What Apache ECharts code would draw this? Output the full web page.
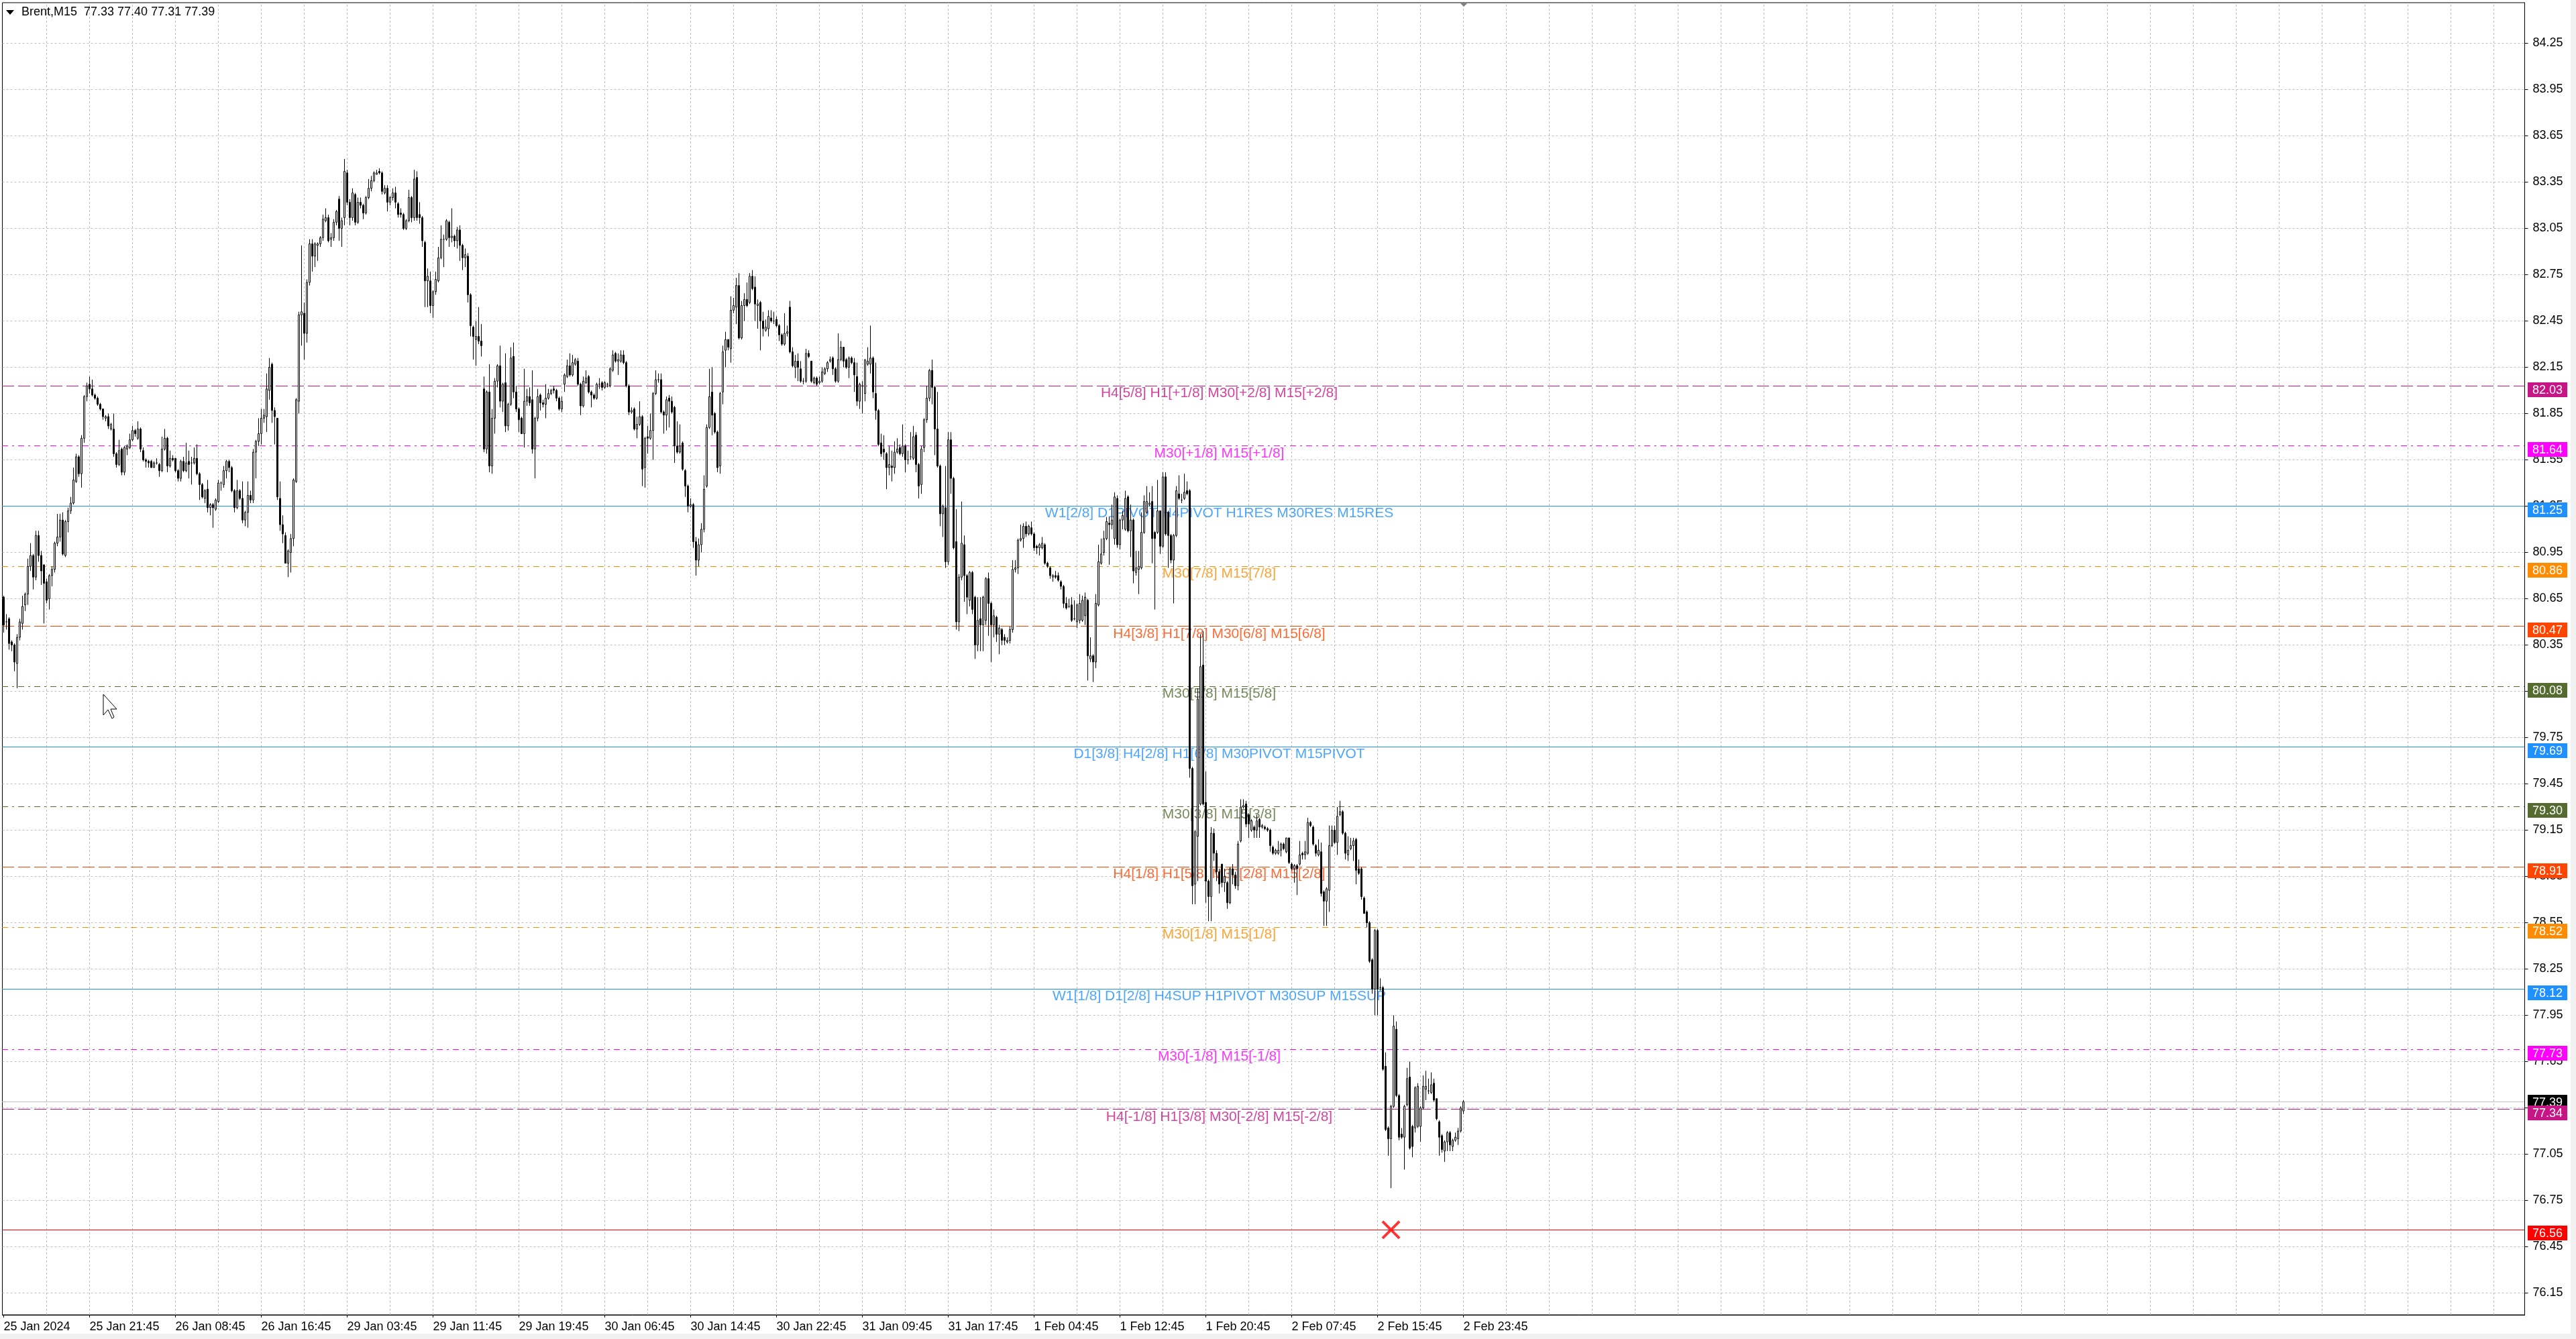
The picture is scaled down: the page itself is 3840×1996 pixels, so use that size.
<!DOCTYPE html>
<html>
<head>
<meta charset="utf-8">
<script src="https://cdn.jsdelivr.net/npm/echarts@6.0.0/dist/echarts.min.js"></script>
<style>
html,body{margin:0;padding:0;background:#fff;}
#c{width:3840px;height:1996px;}
</style>
</head>
<body>
<div id="c"></div>
<script>
// ---------------- DATA ----------------
const symbolName = 'Brent,M15';
const timeLabels = ['25 Jan 2024','25 Jan 21:45','26 Jan 08:45','26 Jan 16:45','29 Jan 03:45','29 Jan 11:45','29 Jan 19:45','30 Jan 06:45','30 Jan 14:45','30 Jan 22:45','31 Jan 09:45','31 Jan 17:45','1 Feb 04:45','1 Feb 12:45','1 Feb 20:45','2 Feb 07:45','2 Feb 15:45','2 Feb 23:45'];
const priceTicks = [76.15,76.45,76.75,77.05,77.35,77.65,77.95,78.25,78.55,78.85,79.15,79.45,79.75,80.05,80.35,80.65,80.95,81.25,81.55,81.85,82.15,82.45,82.75,83.05,83.35,83.65,83.95,84.25];

const opens = [
80.66,80.50,80.52,80.37,80.35,80.23,80.40,80.49,80.61,80.68,
80.86,80.93,80.79,81.06,80.93,80.87,80.76,80.65,80.80,80.84,
81.01,81.05,81.16,80.93,81.15,81.22,81.27,81.41,81.57,81.46,
81.69,81.96,82.04,82.01,81.97,81.95,81.91,81.88,81.82,81.83,
81.75,81.75,81.59,81.52,81.62,81.47,81.62,81.63,81.68,81.74,
81.69,81.75,81.61,81.55,81.54,81.54,81.50,81.53,81.52,81.48,
81.62,81.69,81.51,81.56,81.56,81.48,81.43,81.54,81.48,81.54,
81.53,81.53,81.56,81.46,81.39,81.30,81.36,81.24,81.26,81.23,
81.28,81.40,81.39,81.48,81.54,81.50,81.35,81.24,81.35,81.30,
81.16,81.21,81.32,81.29,81.60,81.67,81.72,81.82,81.83,82.00,
82.17,81.87,81.82,81.30,81.13,81.06,80.88,80.95,81.04,81.41,
81.93,82.49,82.50,82.37,82.70,82.95,82.87,82.94,82.95,82.99,
83.10,83.12,82.98,82.99,83.09,83.24,83.05,83.12,83.41,83.22,
83.12,83.27,83.09,83.22,83.20,83.15,83.25,83.31,83.36,83.40,
83.42,83.41,83.28,83.31,83.22,83.25,83.28,83.21,83.15,83.14,
83.05,83.10,83.25,83.12,83.38,83.14,83.12,82.96,82.71,82.71,
82.55,82.64,82.71,82.86,82.98,82.98,83.09,82.99,83.00,82.97,
83.04,82.94,82.86,82.87,82.62,82.41,82.33,82.35,82.32,82.01,
81.62,81.99,81.51,81.82,82.06,82.16,81.93,82.05,81.77,81.91,
82.22,81.99,81.88,81.82,81.72,81.93,81.96,81.94,81.62,81.82,
81.97,81.92,81.91,81.95,81.98,82.01,82.00,81.95,81.88,82.04,
82.09,82.16,82.10,82.17,82.19,82.04,81.90,82.05,82.09,81.99,
81.97,81.95,82.04,82.05,82.02,82.04,82.03,82.13,82.24,82.19,
82.19,82.23,82.18,82.03,81.86,81.88,81.75,81.78,81.83,81.50,
81.70,81.69,81.74,81.98,82.07,82.07,81.86,81.84,81.95,81.93,
81.89,81.64,81.60,81.66,81.48,81.38,81.25,81.26,81.02,80.90,
81.00,81.10,81.38,81.76,81.99,81.85,81.73,81.51,81.99,82.26,
82.33,82.27,82.52,82.54,82.68,82.34,82.55,82.59,82.57,82.74,
82.67,82.55,82.57,82.45,82.39,82.40,82.47,82.45,82.46,82.42,
82.36,82.30,82.37,82.54,82.25,82.15,82.19,82.14,82.06,82.06,
82.24,82.19,82.05,82.08,82.05,82.06,82.11,82.14,82.19,82.21,
82.14,82.06,82.20,82.28,82.20,82.15,82.21,82.18,82.09,81.93,
82.03,81.98,82.17,82.17,82.21,81.98,81.87,81.66,81.62,81.59,
81.50,81.51,81.50,81.60,81.63,81.59,81.64,81.55,81.57,81.56,
81.71,81.52,81.39,81.63,81.81,81.95,82.13,82.02,81.75,81.51,
81.20,81.24,80.89,81.68,81.43,81.02,80.50,80.79,81.00,80.80,
80.64,80.82,80.66,80.35,80.52,80.48,80.51,80.78,80.62,80.48,
80.53,80.42,80.45,80.40,80.37,80.38,80.45,80.84,80.85,81.03,
81.04,81.12,81.07,81.11,81.07,80.99,80.98,80.98,81.00,80.88,
80.85,80.79,80.80,80.80,80.76,80.73,80.62,80.60,80.61,80.52,
80.50,80.51,80.51,80.54,80.64,80.26,80.28,80.24,80.61,80.88,
80.95,81.04,81.14,81.13,81.04,81.30,81.00,81.16,81.10,81.31,
81.09,81.16,80.82,80.84,80.85,81.08,81.21,81.26,81.28,81.08,
81.08,81.22,80.99,81.44,81.21,81.06,80.90,81.06,81.33,81.29,
81.30,81.35,81.35,79.55,78.80,79.11,79.32,80.22,79.33,78.82,
78.72,79.13,79.00,78.88,78.93,78.81,78.81,78.68,78.90,78.86,
78.79,79.08,79.30,79.32,79.25,79.15,79.17,79.15,79.22,79.17,
79.17,79.16,79.15,79.04,79.00,79.00,79.02,79.06,79.01,79.10,
78.93,78.90,78.92,78.93,79.00,78.99,79.00,79.20,79.17,79.05,
78.99,79.01,78.75,78.69,78.76,79.05,79.15,79.07,79.25,79.27,
79.13,78.99,79.03,79.05,79.09,78.90,78.90,78.71,78.62,78.55,
78.31,78.12,78.50,78.13,78.13,77.62,77.22,77.15,77.36,77.86,
77.43,77.18,77.16,77.37,77.55,77.23,77.22,77.23,77.23,77.35,
77.47,77.46,77.45,77.51,77.41,77.26,77.17,77.07,77.13,77.19,
77.10,77.14,77.15,77.20,77.33
];
const highs = [
80.67,80.55,80.53,80.38,80.36,80.42,80.52,80.67,80.69,80.91,
81.01,80.94,81.09,81.09,80.96,80.87,80.78,80.81,80.86,81.02,
81.20,81.20,81.21,81.16,81.24,81.31,81.50,81.59,81.58,81.71,
81.97,82.05,82.09,82.07,81.98,81.96,81.92,81.88,81.84,81.85,
81.79,81.85,81.60,81.68,81.63,81.64,81.65,81.72,81.77,81.75,
81.80,81.76,81.63,81.56,81.55,81.55,81.54,81.56,81.53,81.70,
81.75,81.70,81.61,81.58,81.56,81.49,81.55,81.57,81.66,81.61,
81.57,81.63,81.65,81.47,81.40,81.36,81.42,81.27,81.27,81.30,
81.42,81.41,81.51,81.55,81.55,81.51,81.36,81.42,81.36,81.41,
81.22,81.41,81.35,81.62,81.68,81.82,81.88,81.88,82.11,82.21,
82.18,81.89,81.82,81.41,81.19,81.08,80.97,81.07,81.43,81.95,
82.51,82.94,82.57,82.72,82.98,82.98,82.96,82.96,83.00,83.14,
83.18,83.14,83.02,83.11,83.17,83.26,83.12,83.50,83.43,83.24,
83.31,83.28,83.25,83.25,83.21,83.26,83.37,83.39,83.42,83.43,
83.44,83.42,83.33,83.33,83.26,83.31,83.32,83.22,83.18,83.15,
83.11,83.30,83.26,83.43,83.42,83.22,83.13,82.97,82.79,82.77,
82.65,82.77,82.93,83.07,83.01,83.11,83.10,83.18,83.01,83.06,
83.07,82.95,82.92,82.89,82.63,82.42,82.45,82.54,82.43,82.09,
82.00,82.17,81.88,82.08,82.17,82.29,82.05,82.24,81.92,82.28,
82.31,82.03,81.89,81.83,82.14,82.01,82.02,82.13,81.83,82.01,
81.98,81.94,82.04,82.01,82.01,82.03,82.01,81.96,81.96,82.11,
82.20,82.24,82.23,82.21,82.21,82.05,82.09,82.13,82.10,82.00,
81.98,82.05,82.08,82.06,82.06,82.05,82.15,82.26,82.25,82.24,
82.26,82.26,82.19,82.04,81.89,81.89,81.83,81.93,81.84,81.70,
81.77,81.85,81.99,82.13,82.11,82.11,81.87,81.96,81.97,81.96,
81.90,81.80,81.78,81.67,81.49,81.39,81.30,81.27,81.05,81.04,
81.14,81.45,81.78,82.14,82.15,81.86,81.74,81.99,82.29,82.38,
82.33,82.61,82.60,82.73,82.76,82.58,82.63,82.70,82.76,82.78,
82.74,82.59,82.58,82.51,82.46,82.52,82.52,82.51,82.48,82.43,
82.37,82.50,82.42,82.58,82.28,82.23,82.24,82.19,82.08,82.27,
82.26,82.19,82.09,82.09,82.09,82.15,82.15,82.19,82.22,82.22,
82.15,82.37,82.32,82.28,82.21,82.22,82.22,82.21,82.18,82.05,
82.06,82.20,82.28,82.42,82.22,82.18,81.88,81.72,81.71,81.60,
81.64,81.61,81.67,81.69,81.65,81.78,81.65,81.61,81.73,81.77,
81.73,81.53,81.64,81.82,82.03,82.14,82.20,82.03,81.99,81.52,
81.26,81.51,81.73,81.73,81.44,81.23,80.81,81.28,81.06,80.81,
80.83,80.83,80.67,80.66,80.66,80.67,80.79,80.82,80.63,80.58,
80.54,80.48,80.46,80.42,80.40,80.47,80.90,80.90,81.04,81.13,
81.14,81.15,81.13,81.15,81.08,81.00,81.01,81.05,81.01,80.89,
80.86,80.81,80.83,80.82,80.77,80.74,80.66,80.65,80.66,80.64,
80.62,80.68,80.67,80.69,80.65,80.40,80.29,80.68,81.00,81.04,
81.09,81.18,81.18,81.26,81.34,81.32,81.17,81.22,81.35,81.32,
81.26,81.17,80.96,80.96,81.21,81.32,81.38,81.34,81.38,81.09,
81.42,81.22,81.47,81.47,81.22,81.07,81.07,81.38,81.45,81.33,
81.46,81.41,81.36,79.56,79.15,80.07,80.42,80.44,79.53,78.83,
79.17,79.16,79.02,78.90,78.93,78.90,78.82,78.91,78.93,78.88,
79.08,79.35,79.35,79.34,79.26,79.22,79.18,79.25,79.23,79.19,
79.18,79.17,79.16,79.05,79.03,79.08,79.07,79.07,79.10,79.10,
78.94,78.93,78.93,79.08,79.01,79.08,79.23,79.21,79.18,79.06,
79.09,79.07,78.76,78.78,79.18,79.18,79.18,79.30,79.34,79.28,
79.14,79.11,79.10,79.10,79.10,78.96,78.91,78.72,78.63,78.56,
78.32,78.51,78.51,78.19,78.14,77.71,77.23,77.37,77.95,77.91,
77.44,77.22,77.37,77.61,77.65,77.24,77.49,77.51,77.36,77.56,
77.59,77.54,77.58,77.54,77.41,77.27,77.18,77.14,77.20,77.20,
77.15,77.19,77.22,77.36,77.40
];
const lows = [
80.43,80.45,80.32,80.31,80.18,80.07,80.38,80.45,80.57,80.61,
80.83,80.71,80.77,80.89,80.74,80.49,80.62,80.58,80.73,80.82,
80.99,81.02,80.93,80.92,81.08,81.20,81.26,81.40,81.44,81.37,
81.66,81.93,81.98,81.96,81.94,81.90,81.87,81.81,81.80,81.75,
81.74,81.57,81.50,81.51,81.45,81.45,81.58,81.62,81.67,81.70,
81.68,81.60,81.54,81.50,81.50,81.50,81.50,81.52,81.44,81.47,
81.61,81.47,81.50,81.54,81.47,81.41,81.41,81.47,81.47,81.43,
81.39,81.52,81.45,81.29,81.30,81.27,81.21,81.19,81.11,81.22,
81.27,81.35,81.37,81.43,81.47,81.34,81.21,81.23,81.29,81.14,
81.12,81.11,81.27,81.27,81.43,81.64,81.65,81.79,81.73,81.94,
81.79,81.65,81.29,81.09,81.01,80.88,80.79,80.82,80.99,81.40,
81.85,82.29,82.20,82.31,82.68,82.77,82.80,82.84,82.93,82.97,
83.09,82.96,82.93,82.97,83.07,82.97,82.93,83.07,83.20,83.07,
83.10,83.07,83.08,83.18,83.11,83.14,83.24,83.29,83.35,83.40,
83.40,83.27,83.27,83.16,83.20,83.23,83.18,83.12,83.12,83.04,
83.04,83.09,83.09,83.10,83.10,83.08,82.93,82.54,82.54,82.50,
82.47,82.62,82.70,82.85,82.80,82.97,82.93,82.96,82.93,82.92,
82.84,82.78,82.80,82.57,82.35,82.20,82.16,82.30,82.22,81.60,
81.59,81.47,81.46,81.72,82.02,81.89,81.86,81.73,81.74,81.90,
81.95,81.86,81.73,81.72,81.63,81.90,81.90,81.59,81.43,81.80,
81.87,81.89,81.82,81.94,81.97,81.98,81.93,81.87,81.86,81.99,
82.08,82.09,82.09,82.16,82.03,81.84,81.89,82.04,81.98,81.89,
81.94,81.94,82.01,82.00,82.01,82.02,82.02,82.12,82.18,82.10,
82.18,82.17,82.02,81.84,81.85,81.74,81.69,81.77,81.38,81.37,
81.59,81.68,81.55,81.97,82.05,81.85,81.72,81.74,81.76,81.85,
81.53,81.59,81.59,81.48,81.31,81.21,81.24,80.98,80.80,80.86,
80.95,81.08,81.37,81.75,81.71,81.72,81.47,81.46,81.91,82.15,
82.26,82.18,82.50,82.43,82.33,82.33,82.45,82.54,82.56,82.65,
82.45,82.40,82.26,82.35,82.38,82.35,82.44,82.43,82.41,82.32,
82.29,82.29,82.35,82.24,82.15,82.08,82.06,82.05,82.04,82.05,
82.21,82.05,82.04,82.03,82.04,82.05,82.10,82.12,82.18,82.10,
82.05,82.05,82.19,82.15,82.14,82.08,82.17,81.99,81.90,81.88,
81.85,81.93,82.16,82.11,81.95,81.81,81.64,81.57,81.55,81.36,
81.45,81.41,81.46,81.59,81.58,81.57,81.47,81.52,81.55,81.55,
81.47,81.30,81.33,81.60,81.79,81.93,81.91,81.58,81.50,81.12,
81.05,80.85,80.87,81.33,80.97,80.45,80.44,80.77,80.63,80.55,
80.60,80.55,80.26,80.31,80.31,80.31,80.48,80.41,80.24,80.40,
80.37,80.29,80.35,80.35,80.36,80.36,80.43,80.82,80.81,81.02,
80.98,81.05,81.06,81.06,80.96,80.94,80.93,80.97,80.87,80.85,
80.78,80.76,80.78,80.76,80.71,80.59,80.58,80.59,80.50,80.51,
80.46,80.49,80.50,80.48,80.12,80.24,80.11,80.20,80.60,80.87,
80.93,81.03,80.87,81.10,81.00,80.98,80.97,81.10,81.09,81.08,
80.92,80.75,80.80,80.68,80.84,81.07,81.20,81.25,80.88,80.58,
81.07,80.94,80.98,81.06,80.85,80.88,80.62,81.05,81.29,81.27,
81.29,81.32,79.49,78.67,78.67,78.82,79.31,79.31,78.68,78.56,
78.56,78.95,78.82,78.74,78.78,78.75,78.64,78.67,78.80,78.77,
78.76,79.07,79.29,79.17,79.10,79.14,79.10,79.10,79.10,79.16,
79.15,79.14,79.01,78.99,78.99,78.99,78.98,79.02,79.00,78.93,
78.89,78.81,78.73,78.92,78.96,78.96,78.99,79.17,79.05,78.98,
78.98,78.72,78.53,78.53,78.62,79.04,79.06,78.99,79.24,79.12,
78.96,78.95,79.02,78.95,78.80,78.86,78.70,78.61,78.52,78.29,
78.09,77.95,77.95,78.11,77.59,77.20,77.04,76.83,77.35,77.42,
77.14,77.15,76.95,77.36,77.08,77.03,77.19,77.22,77.13,77.34,
77.40,77.44,77.44,77.39,77.27,77.04,77.06,77.00,77.07,77.07,
77.07,77.13,77.11,77.19,77.31
];
const closes = [
80.48,80.50,80.36,80.35,80.24,80.40,80.50,80.60,80.68,80.86,
80.93,80.79,81.06,80.93,80.83,80.75,80.64,80.80,80.84,81.01,
81.05,81.16,80.94,81.15,81.22,81.27,81.42,81.57,81.46,81.69,
81.96,82.03,82.01,81.97,81.95,81.91,81.88,81.83,81.83,81.77,
81.78,81.59,81.52,81.61,81.47,81.63,81.64,81.68,81.74,81.72,
81.75,81.62,81.55,81.54,81.53,81.50,81.53,81.53,81.48,81.62,
81.69,81.51,81.56,81.55,81.48,81.43,81.54,81.48,81.53,81.52,
81.53,81.56,81.46,81.39,81.31,81.35,81.24,81.26,81.24,81.29,
81.40,81.40,81.48,81.54,81.50,81.35,81.24,81.35,81.30,81.16,
81.21,81.32,81.29,81.60,81.67,81.72,81.82,81.84,82.01,82.15,
81.87,81.83,81.31,81.13,81.07,80.88,80.96,81.04,81.42,81.94,
82.49,82.51,82.37,82.70,82.95,82.87,82.95,82.95,82.99,83.11,
83.12,82.97,82.99,83.09,83.16,83.05,83.10,83.42,83.22,83.12,
83.28,83.09,83.22,83.20,83.15,83.25,83.31,83.36,83.41,83.41,
83.41,83.29,83.31,83.22,83.25,83.28,83.22,83.14,83.14,83.05,
83.10,83.25,83.12,83.37,83.12,83.12,82.97,82.71,82.74,82.55,
82.64,82.72,82.86,82.98,82.98,83.10,82.99,83.00,82.97,83.04,
82.94,82.86,82.88,82.62,82.42,82.35,82.35,82.32,82.29,81.62,
81.99,81.51,81.82,82.06,82.16,81.93,82.04,81.77,81.91,82.21,
81.99,81.88,81.81,81.72,81.93,81.96,81.92,81.62,81.82,81.96,
81.92,81.91,81.95,81.98,82.00,82.00,81.95,81.88,81.93,82.10,
82.16,82.10,82.18,82.20,82.04,81.90,82.06,82.08,81.99,81.97,
81.95,82.04,82.04,82.02,82.05,82.04,82.14,82.23,82.19,82.20,
82.23,82.18,82.03,81.86,81.87,81.75,81.78,81.83,81.49,81.69,
81.69,81.74,81.98,82.07,82.07,81.86,81.84,81.94,81.93,81.86,
81.64,81.60,81.64,81.49,81.38,81.25,81.26,81.02,80.90,81.00,
81.10,81.36,81.76,81.96,81.84,81.73,81.50,81.98,82.25,82.33,
82.28,82.52,82.55,82.68,82.34,82.55,82.59,82.55,82.74,82.66,
82.56,82.56,82.45,82.40,82.41,82.48,82.45,82.45,82.42,82.36,
82.30,82.37,82.38,82.25,82.16,82.19,82.15,82.06,82.06,82.24,
82.22,82.06,82.08,82.04,82.06,82.12,82.14,82.18,82.20,82.14,
82.06,82.20,82.28,82.19,82.15,82.21,82.18,82.10,81.93,82.04,
82.03,82.20,82.19,82.21,81.99,81.87,81.65,81.59,81.60,81.50,
81.52,81.50,81.60,81.62,81.59,81.64,81.55,81.55,81.57,81.70,
81.52,81.38,81.62,81.81,81.95,82.13,82.02,81.75,81.51,81.20,
81.25,80.89,81.68,81.43,80.98,80.50,80.79,81.01,80.80,80.66,
80.82,80.58,80.35,80.51,80.48,80.66,80.78,80.62,80.48,80.54,
80.42,80.46,80.38,80.38,80.38,80.45,80.84,80.85,81.03,81.04,
81.12,81.07,81.12,81.07,80.98,80.98,81.00,81.01,80.88,80.86,
80.80,80.80,80.79,80.77,80.73,80.62,80.59,80.60,80.51,80.52,
80.61,80.62,80.64,80.66,80.28,80.28,80.24,80.62,80.89,80.94,
81.04,81.15,81.13,81.16,81.31,81.00,81.16,81.19,81.30,81.09,
81.16,80.83,80.85,80.86,81.08,81.28,81.28,81.27,81.04,81.04,
81.22,80.99,81.44,81.07,81.06,80.90,81.06,81.35,81.30,81.29,
81.34,81.33,79.55,78.79,79.14,80.00,80.21,79.32,78.82,78.72,
79.13,79.00,78.88,78.80,78.81,78.85,78.68,78.90,78.86,78.79,
79.06,79.30,79.31,79.19,79.19,79.21,79.15,79.21,79.17,79.18,
79.16,79.15,79.05,79.00,79.02,79.02,79.06,79.03,79.10,78.94,
78.90,78.92,78.90,78.99,78.99,79.01,79.20,79.18,79.06,79.00,
79.02,78.74,78.69,78.77,79.05,79.15,79.07,79.24,79.27,79.13,
79.00,79.02,79.05,79.08,78.89,78.87,78.72,78.61,78.55,78.30,
78.12,78.50,78.12,78.13,77.60,77.21,77.15,77.36,77.88,77.43,
77.16,77.16,77.36,77.54,77.09,77.10,77.48,77.49,77.35,77.49,
77.49,77.46,77.50,77.40,77.28,77.16,77.08,77.13,77.19,77.11,
77.14,77.16,77.20,77.35,77.39
];

// Murrey-style level lines (price, text, kind)
const levelPrices = [82.03, 81.64, 81.25, 80.86, 80.47, 80.08, 79.69, 79.30, 78.91, 78.52, 78.12, 77.73, 77.34];
const levelTexts = [
  'H4[5/8] H1[+1/8] M30[+2/8] M15[+2/8]',
  'M30[+1/8] M15[+1/8]',
  'W1[2/8] D1PIVOT H4PIVOT H1RES M30RES M15RES',
  'M30[7/8] M15[7/8]',
  'H4[3/8] H1[7/8] M30[6/8] M15[6/8]',
  'M30[5/8] M15[5/8]',
  'D1[3/8] H4[2/8] H1[6/8] M30PIVOT M15PIVOT',
  'M30[3/8] M15[3/8]',
  'H4[1/8] H1[5/8] M30[2/8] M15[2/8]',
  'M30[1/8] M15[1/8]',
  'W1[1/8] D1[2/8] H4SUP H1PIVOT M30SUP M15SUP',
  'M30[-1/8] M15[-1/8]',
  'H4[-1/8] H1[3/8] M30[-2/8] M15[-2/8]'
];
const levelKinds = ['H','P','B','O','R','G','B','G','R','O','B','P','H'];
const levelLabelBar = 453;
const currentPrice = 77.39;
const stopPrice = 76.56;
const stopBar = 517;

// ---------------- STYLE ----------------
const FONT = 'Liberation Sans';
const KIND = {
  H: {color: '#C71585', dash: [18, 6], dy: 5},
  P: {color: '#FF00FF', dash: [9, 6, 3, 6], dy: 5},
  B: {color: '#1E90FF', dash: null, dy: 5},
  O: {color: '#FF8C00', dash: [9, 6, 3, 6], dy: 5},
  R: {color: '#FF4500', dash: [18, 6], dy: 5},
  G: {color: '#556B2F', dash: [9, 6, 3, 6], dy: 5},
  CUR: {color: '#C0C0C0', box: '#000000', dash: null, dy: 0},
  STOP: {color: '#FF0000', dash: null, dy: 4}
};
const N_SLOTS = 940;
const GRID_COLOR = '#C0C0C0';

const cats = Array.from({length: N_SLOTS}, (_, i) => String(i));
const candleData = opens.map((o, i) => [o, closes[i], lows[i], highs[i]]);
const nBars = opens.length;
const labelEvery = 32;
const showLabel = (i) => i % labelEvery === 0 && i < nBars;

// horizontal price lines (current first so level boxes draw on top of it)
const hlPrices = [currentPrice].concat(levelPrices, [stopPrice]);
const hlKinds = ['CUR'].concat(levelKinds, ['STOP']);
const hlData = hlPrices.map((p) => [0, p]);

const gridLines = [];
priceTicks.forEach(v => gridLines.push({yAxis: v}));
for (let i = 16; i < N_SLOTS; i += 16) gridLines.push({xAxis: i});

const levelLabelData = levelPrices.map((p, i) => ({
  value: [levelLabelBar, p],
  label: {color: KIND[levelKinds[i]].color, formatter: levelTexts[i]}
}));

const last = nBars - 1;
const titleText = symbolName + '  ' + [opens[last], highs[last], lows[last], closes[last]].map(v => v.toFixed(2)).join(' ');

function renderHLine(params, api) {
  const k = KIND[hlKinds[params.dataIndex]];
  const price = api.value(1);
  const cs = params.coordSys;
  const yRaw = api.coord([0, price])[1];
  const y = Math.floor(yRaw) + 0.5;
  const x1 = Math.floor(cs.x);
  const x2 = Math.floor(cs.x + cs.width);
  const bx = x2 + 5;
  const by = Math.round(y - 11 + k.dy);
  const lineStyle = {stroke: k.color, lineWidth: 1, fill: null};
  if (k.dash) lineStyle.lineDash = k.dash;
  return {
    type: 'group',
    children: [
      {type: 'line', shape: {x1: x1, y1: y, x2: x2, y2: y}, style: lineStyle, silent: true},
      {type: 'rect', shape: {x: bx, y: by, width: 59, height: 22}, style: {fill: k.box || k.color}, silent: true},
      {type: 'text', x: bx + 7, y: by + 12, silent: true,
        style: {text: price.toFixed(2), fill: '#fff', font: '18px "Liberation Sans"', verticalAlign: 'middle', align: 'left'}}
    ]
  };
}

const chart = echarts.init(document.getElementById('c'), null, {renderer: 'canvas', width: 3840, height: 1996});
chart.setOption({
  animation: false,
  backgroundColor: '#ffffff',
  textStyle: {fontFamily: FONT},
  grid: {left: 3.5, right: 76.5, top: 4, bottom: 36, show: true, borderColor: '#000', borderWidth: 1, backgroundColor: 'transparent'},
  xAxis: {
    type: 'category', data: cats, boundaryGap: true,
    axisLine: {show: true, lineStyle: {color: '#000', width: 1}},
    axisTick: {show: true, alignWithLabel: true, interval: (i) => showLabel(i), length: 4, lineStyle: {color: '#000'}},
    axisLabel: {show: true, interval: (i) => showLabel(i), align: 'left', margin: 9,
      formatter: (v, i) => timeLabels[Math.round(Number(v) / labelEvery)] || '',
      color: '#000', fontFamily: FONT, fontSize: 18},
    splitLine: {show: false}
  },
  yAxis: {
    type: 'value', position: 'right', min: 76.00869, max: 84.51304, scale: true,
    axisLine: {show: true, lineStyle: {color: '#000', width: 1}},
    axisTick: {show: true, customValues: priceTicks, length: 5, lineStyle: {color: '#000'}},
    axisLabel: {show: true, customValues: priceTicks, formatter: (v) => Number(v).toFixed(2), margin: 12,
      color: '#000', fontFamily: FONT, fontSize: 18},
    splitLine: {show: false}
  },
  series: [
    {
      type: 'candlestick', name: 'Brent', data: candleData, z: 10,
      barWidth: 2,
      itemStyle: {color: '#ffffff', color0: '#000000', borderColor: '#000000', borderColor0: '#000000', borderWidth: 1},
      markLine: {
        silent: true, z: 1, symbol: ['none', 'none'], animation: false,
        label: {show: false},
        lineStyle: {color: GRID_COLOR, type: [3, 3], width: 1},
        emphasis: {disabled: true},
        data: gridLines
      }
    },
    {
      type: 'custom', name: 'priceLines', z: 3, silent: true, clip: false,
      renderItem: renderHLine,
      encode: {x: 0, y: 1},
      data: hlData
    },
    {
      type: 'scatter', name: 'levels', z: 5, silent: true,
      symbolSize: 1, itemStyle: {color: 'rgba(0,0,0,0)'},
      label: {show: true, position: 'bottom', distance: 0, fontFamily: FONT, fontSize: 21, lineHeight: 21},
      data: levelLabelData
    },
    {
      type: 'scatter', name: 'stop', z: 12, silent: true,
      symbol: 'path://M1,0L5,4L9,0L10,1L6,5L10,9L9,10L5,6L1,10L0,9L4,5L0,1Z',
      symbolSize: 28, itemStyle: {color: '#FF0000'},
      data: [[stopBar, stopPrice]]
    }
  ],
  graphic: [
    {type: 'rect', shape: {x: 3832, y: 0, width: 8, height: 1996}, style: {fill: '#F0F0F0'}, z: 100},
    {type: 'rect', shape: {x: 0, y: 1988, width: 3840, height: 8}, style: {fill: '#F0F0F0'}, z: 100},
    {type: 'polygon', shape: {points: [[9, 15], [21, 15], [15, 22]]}, style: {fill: '#000'}, z: 100},
    {type: 'text', x: 32, y: 9, style: {text: titleText, font: '18px "Liberation Sans"', fill: '#000'}, z: 100},
    {type: 'polygon', shape: {points: [[2176, 4], [2188, 4], [2182, 10]]}, style: {fill: '#808080'}, z: 100},
    {type: 'polygon', shape: {points: [[154, 1035], [154, 1066], [161, 1058], [167, 1071], [170, 1069], [165, 1057], [174, 1057]]},
      style: {fill: '#fff', stroke: '#000', lineWidth: 1}, z: 100}
  ]
});
</script>
</body>
</html>
